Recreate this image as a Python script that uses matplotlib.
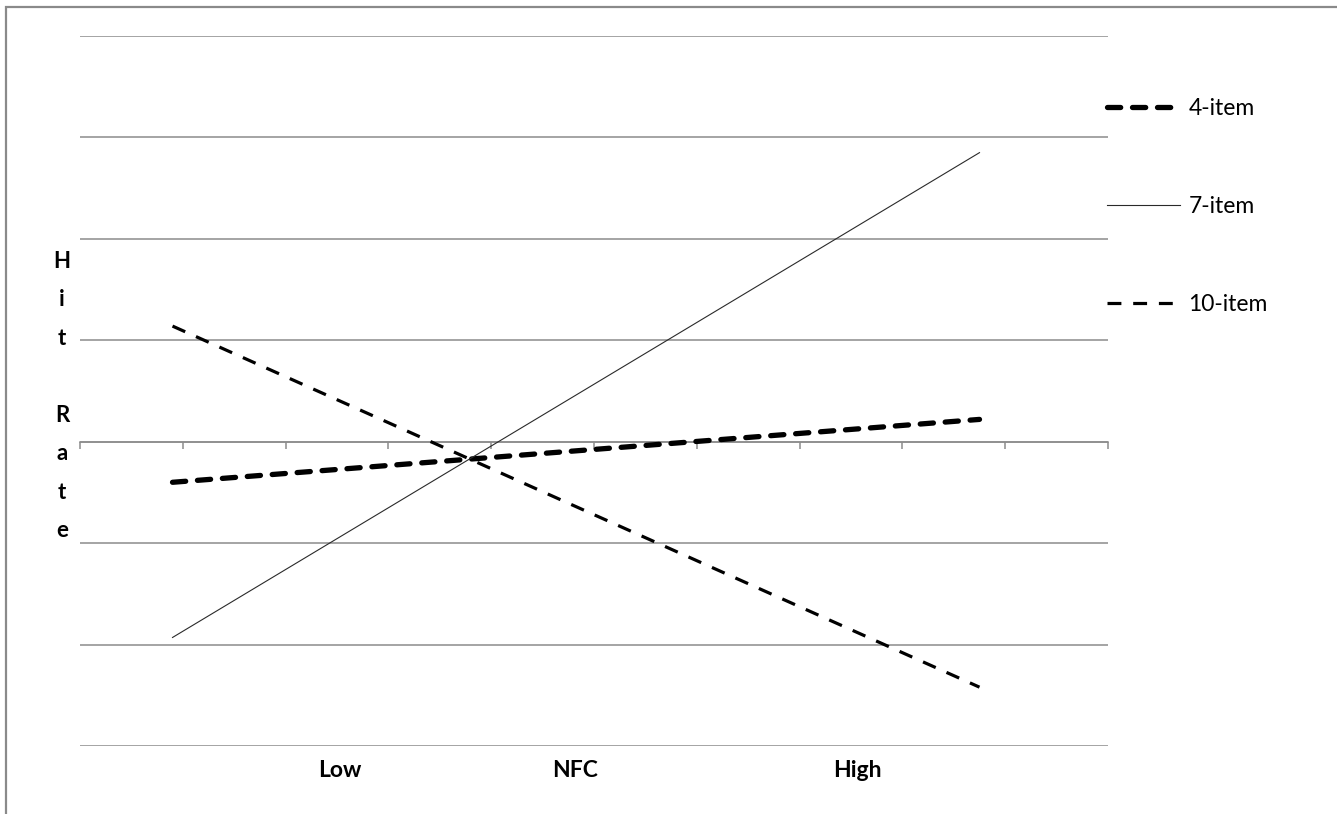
import matplotlib
matplotlib.use("Agg")
import matplotlib.pyplot as plt
import matplotlib.transforms as mtransforms
from matplotlib.patches import Rectangle

# data (y in gridline units, zero = axis line)
nfc_x = [0.9, 8.75]
hit_4item = [-0.40, 0.22]
hit_7item = [-1.93, 2.85]
hit_10item = [1.14, -2.42]
series_names = ["4-item", "7-item", "10-item"]
x_labels = ["Low", "NFC", "High"]
x_label_pos = [2.53, 4.82, 7.56]

plt.rcParams["font.family"] = ["Lato", "DejaVu Sans"]
plt.rcParams["lines.scale_dashes"] = False

fig = plt.figure(figsize=(13.37, 8.14), dpi=100)
ax = fig.add_axes([80 / 1337, 1 - 746 / 814, 1028 / 1337, 710 / 814])

grid_c = "#8c8c8c"
ax.set_xlim(0, 10)
ax.set_ylim(-3, 4)
for y in range(-3, 5):
    ax.axhline(y, color=grid_c, lw=1.1, zorder=1)

l4, = ax.plot(nfc_x, hit_4item, color="black", lw=3.8, dashes=(9.5, 8.5),
              dash_capstyle="round", zorder=3, label=series_names[0])
l7, = ax.plot(nfc_x, hit_7item, color="#2a2a2a", lw=0.8, zorder=3,
              label=series_names[1])
l10, = ax.plot(nfc_x, hit_10item, color="black", lw=2.3, dashes=(10, 8.5),
               dash_capstyle="butt", zorder=3, label=series_names[2])

for s in ["top", "right", "left"]:
    ax.spines[s].set_visible(False)
ax.spines["bottom"].set_position(("data", 0))
ax.spines["bottom"].set_color(grid_c)
ax.spines["bottom"].set_linewidth(1.1)
ax.set_xticks(range(0, 11))
ax.tick_params(axis="x", direction="out", length=5, width=1.1, color=grid_c,
               labelbottom=False)
ax.set_yticks([])

ax.set_ylabel("H\ni\nt\n\nR\na\nt\ne", rotation=0, fontsize=16,
              fontweight="bold", linespacing=2.03, va="center", ha="center")
ax.yaxis.set_label_coords(-0.0175, 0.493)

trans = mtransforms.blended_transform_factory(ax.transData, ax.transAxes)
for lab, xp in zip(x_labels, x_label_pos):
    ax.text(xp, -0.034, lab, transform=trans, ha="center", va="center",
            fontsize=16.5, fontweight="bold")

fig.legend(handles=[l4, l7, l10], loc="upper left",
           bbox_to_anchor=(1107 / 1337, 1 - 98 / 814), frameon=False,
           fontsize=16.5, handlelength=3.2, handletextpad=0.35,
           labelspacing=3.35, borderpad=0, borderaxespad=0)

# chart area border (only top/left visible in the crop)
fig.add_artist(Rectangle((6 / 1337, -0.2), 1.2, 1.2 - 7 / 814,
                         transform=fig.transFigure, fill=False,
                         edgecolor="#8a8a8a", lw=1.6, clip_on=False))

fig.savefig("out.png", dpi=100)
